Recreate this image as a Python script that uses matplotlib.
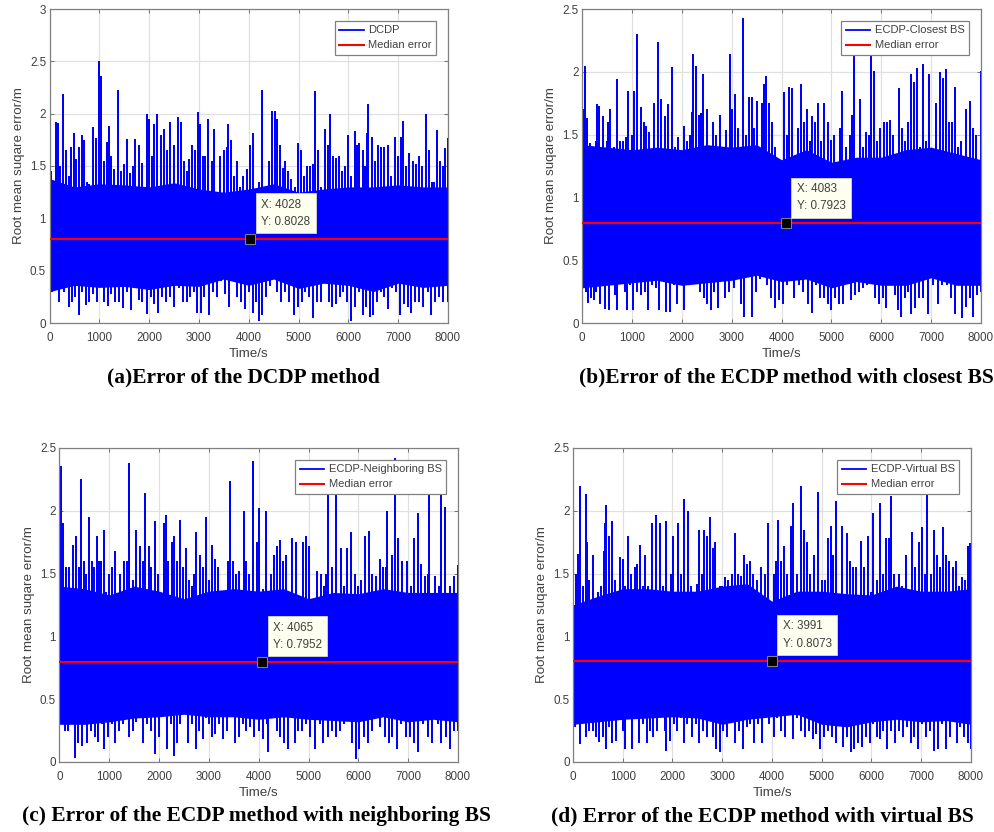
import numpy as np
import matplotlib
matplotlib.use("Agg")
import matplotlib.pyplot as plt

plt.rcParams['font.family'] = ['Liberation Sans', 'DejaVu Sans']

W, H = 995, 832

peaks_a = [(0,1.83),(40,1.45),(130,1.92),(170,1.91),(220,1.5),(281,2.19),(330,1.65),(400,1.4),(440,1.68),(490,1.82),(530,1.57),
(600,1.68),(650,1.8),(700,1.75),(750,1.35),(800,1.33),(880,1.87),(930,1.77),(992,2.5),(1032,2.36),(1100,1.55),(1160,1.73),
(1190,1.88),(1240,1.6),(1300,1.47),(1367,2.23),(1430,1.45),(1500,1.52),(1560,1.76),(1620,1.43),(1680,1.5),(1720,1.76),
(1800,1.7),(1860,1.53),(1930,1.3),(1950,2.0),(2000,1.95),(2060,1.6),(2100,1.9),(2150,2.0),(2230,1.8),(2290,1.85),(2360,1.65),
(2420,1.92),(2500,1.7),(2580,1.97),(2630,1.92),(2700,1.55),(2760,1.45),(2800,1.57),(2860,1.7),(2920,1.65),(2980,2.02),
(3020,1.9),(3080,1.6),(3130,1.6),(3190,1.95),(3260,1.55),(3300,1.85),(3420,1.6),(3500,1.65),(3560,1.68),(3590,1.9),(3650,1.75),
(3700,1.4),(3760,1.55),(3830,1.3),(3890,1.4),(3960,1.47),(4030,1.7),(4094,1.82),(4200,1.35),(4275,2.23),(4340,1.3),(4400,1.55),
(4470,2.03),(4520,2.03),(4560,1.95),(4620,1.7),(4680,1.48),(4720,1.55),(4780,1.45),(4850,1.38),(4920,1.3),(4980,1.72),(5040,1.65),
(5100,1.4),(5160,1.5),(5220,1.5),(5280,1.52),(5333,2.22),(5400,1.65),(5460,1.3),(5530,1.85),(5590,1.7),(5640,2.0),(5700,1.6),
(5760,1.58),(5820,1.6),(5880,1.45),(5940,1.5),(6000,1.8),(6060,1.4),(6130,1.83),(6180,1.7),(6220,1.72),(6290,1.65),(6340,1.5),
(6380,1.82),(6399,2.09),(6480,1.78),(6540,1.55),(6600,1.7),(6660,1.68),(6720,1.68),(6790,1.7),(6850,1.4),(6930,1.78),(6990,1.6),
(7050,1.78),(7100,1.93),(7160,1.5),(7220,1.62),(7290,1.55),(7350,1.52),(7420,1.6),(7480,1.5),(7564,2.0),(7620,1.65),(7680,1.35),
(7720,1.35),(7780,1.84),(7840,1.55),(7890,1.5),(7940,1.67),(7990,1.77)]
troughs_a = [(0,0.0),(60,0.3),(120,0.35),(200,0.2),(290,0.3),(390,0.15),(460,0.2),(520,0.25),(590,0.08),(650,0.3),(730,0.17),(800,0.2),
(870,0.28),(950,0.2),(1040,0.35),(1100,0.2),(1170,0.16),(1240,0.28),(1310,0.2),(1400,0.2),(1480,0.14),(1560,0.3),(1640,0.12),
(1700,0.35),(1790,0.22),(1860,0.2),(1960,0.09),(2030,0.25),(2090,0.18),(2180,0.1),(2260,0.25),(2340,0.2),(2420,0.25),(2500,0.15),
(2590,0.33),(2680,0.2),(2760,0.2),(2830,0.25),(2900,0.3),(2960,0.1),(3040,0.1),(3110,0.25),(3210,0.08),(3280,0.3),(3360,0.25),
(3440,0.4),(3520,0.28),(3600,0.15),(3680,0.4),(3760,0.25),(3840,0.2),(3920,0.13),(4010,0.3),(4090,0.1),(4150,0.2),(4200,0.02),
(4270,0.08),(4340,0.25),(4420,0.35),(4500,0.45),(4570,0.3),(4640,0.2),(4720,0.3),(4800,0.2),(4900,0.08),(4980,0.15),(5060,0.2),
(5130,0.3),(5210,0.25),(5290,0.05),(5370,0.2),(5450,0.2),(5530,0.38),(5610,0.2),(5680,0.15),(5760,0.18),(5830,0.25),(5900,0.3),
(5980,0.2),(6050,0.02),(6130,0.15),(6210,0.3),(6290,0.08),(6360,0.15),(6430,0.06),(6500,0.08),(6580,0.2),(6650,0.3),(6710,0.25),
(6790,0.13),(6870,0.33),(6950,0.3),(7030,0.08),(7110,0.18),(7190,0.15),(7250,0.1),(7330,0.2),(7420,0.2),(7500,0.15),(7590,0.3),
(7660,0.08),(7740,0.2),(7820,0.25),(7900,0.2),(7990,0.2)]

peaks_b = [(0,1.7),(40,1.7),(60,2.05),(110,1.63),(170,1.43),(230,1.25),(280,1.45),(310,1.74),(350,1.73),(410,1.35),(430,1.65),(500,1.45),
(530,1.6),(560,1.7),(640,1.4),(700,1.94),(760,1.45),(820,1.45),(880,1.48),(930,1.85),(1000,1.5),(1050,1.85),(1102,2.3),(1180,1.72),
(1240,1.6),(1290,1.57),(1340,1.52),(1400,1.35),(1440,1.75),(1516,2.24),(1590,1.78),(1660,1.65),(1730,1.74),(1797,2.04),(1860,1.4),
(1920,1.48),(1980,1.35),(2040,1.57),(2100,1.45),(2160,1.5),(2200,1.68),(2218,2.14),(2280,2.05),(2340,1.66),(2390,1.67),(2430,1.98),
(2500,1.7),(2570,1.4),(2620,1.6),(2680,1.5),(2760,1.66),(2810,1.3),(2880,1.54),(2966,2.14),(3000,1.7),(3060,1.82),(3130,1.55),
(3220,2.43),(3290,1.5),(3350,1.8),(3400,1.8),(3450,1.55),(3500,1.77),(3560,1.35),(3610,1.75),(3650,1.9),(3690,1.97),(3740,1.75),
(3800,1.6),(3860,1.4),(3900,1.3),(3960,1.3),(4050,1.84),(4110,1.5),(4160,1.88),(4220,1.87),(4280,1.3),(4330,1.55),(4390,1.9),
(4450,1.6),(4510,1.7),(4570,1.45),(4620,1.65),(4680,1.6),(4740,1.75),(4800,1.45),(4860,1.75),(4930,1.6),(5000,1.46),(5060,1.5),
(5130,1.25),(5170,1.55),(5220,1.85),(5290,1.4),(5370,1.5),(5420,1.66),(5444,2.25),(5500,1.3),(5580,1.78),(5640,1.4),(5700,1.52),
(5760,1.5),(5798,2.25),(5850,2.01),(5910,1.45),(5980,1.55),(6050,1.6),(6120,1.6),(6180,1.62),(6240,1.5),(6300,1.3),(6350,1.87),
(6410,1.55),(6470,1.45),(6530,1.6),(6600,1.98),(6660,1.92),(6720,2.03),(6780,1.4),(6830,2.06),(6900,1.45),(6960,1.98),(7030,1.3),
(7100,1.75),(7170,2.0),(7240,1.95),(7290,2.02),(7350,1.6),(7410,1.6),(7470,1.88),(7530,1.4),(7590,1.45),(7700,1.7),(7770,1.77),
(7840,1.55),(7900,1.5),(7990,2.01)]
troughs_b = [(0,0.0),(50,0.45),(90,0.25),(120,0.16),(180,0.2),(240,0.18),(290,0.25),(360,0.15),(420,0.3),(470,0.11),(540,0.1),(600,0.3),
(660,0.22),(710,0.1),(780,0.35),(860,0.25),(910,0.1),(960,0.3),(1030,0.1),(1110,0.25),(1190,0.22),(1270,0.25),(1330,0.1),(1410,0.3),
(1480,0.28),(1550,0.1),(1630,0.35),(1690,0.09),(1770,0.09),(1840,0.3),(1910,0.15),(2040,0.1),(2110,0.3),(2190,0.33),(2270,0.35),
(2300,0.5),(2370,0.25),(2450,0.2),(2510,0.15),(2590,0.1),(2650,0.25),(2720,0.12),(2800,0.45),(2870,0.2),(2950,0.25),(3040,0.28),
(3110,0.35),(3190,0.15),(3240,0.05),(3320,0.4),(3400,0.05),(3490,0.25),(3560,0.35),(3630,0.52),(3700,0.3),(3780,0.2),(3860,0.12),
(3950,0.18),(4030,0.15),(4110,0.3),(4180,0.35),(4260,0.2),(4350,0.3),(4440,0.25),(4540,0.15),(4620,0.08),(4700,0.3),(4780,0.2),
(4850,0.2),(4930,0.15),(5000,0.1),(5080,0.2),(5150,0.15),(5230,0.15),(5320,0.32),(5400,0.18),(5480,0.22),(5550,0.25),(5630,0.28),
(5710,0.3),(5800,0.42),(5880,0.2),(5960,0.15),(6040,0.2),(6100,0.12),(6190,0.3),(6270,0.22),(6330,0.1),(6400,0.05),(6470,0.2),
(6540,0.25),(6600,0.07),(6680,0.12),(6760,0.2),(6830,0.2),(6930,0.07),(6960,0.47),(7040,0.3),(7130,0.15),(7220,0.3),(7310,0.3),
(7400,0.2),(7480,0.07),(7530,0.3),(7610,0.04),(7690,0.13),(7780,0.2),(7840,0.05),(7920,0.22),(7990,0.25)]

peaks_c = [(0,1.5),(30,2.36),(70,1.9),(130,1.55),(190,1.55),(270,1.73),(330,1.8),(390,1.55),(430,2.25),(490,1.6),(540,1.5),(600,1.95),
(650,1.6),(700,1.55),(750,1.8),(800,1.6),(840,1.6),(890,1.85),(940,1.35),(1000,1.5),(1060,1.55),(1120,1.68),(1220,1.5),(1290,1.6),
(1360,1.6),(1398,2.38),(1480,1.45),(1540,1.85),(1620,1.72),(1680,1.6),(1719,2.14),(1790,1.72),(1840,1.55),(1920,1.92),(1980,1.5),
(2090,1.9),(2130,1.97),(2180,1.6),(2250,1.75),(2300,1.8),(2360,1.6),(2420,1.93),(2480,1.55),(2530,1.7),(2590,1.45),(2650,1.4),
(2700,1.5),(2750,1.83),(2830,1.65),(2880,1.55),(2940,1.95),(3000,1.45),(3060,1.73),(3120,1.62),(3180,1.55),(3240,1.3),(3310,1.3),
(3380,1.6),(3418,2.24),(3490,1.6),(3550,1.5),(3610,1.52),(3700,2.0),(3740,1.6),(3810,1.5),(3887,2.4),(3960,1.75),(4014,2.02),
(4090,1.38),(4130,1.35),(4155,2.0),(4240,1.5),(4310,1.65),(4370,1.72),(4420,1.77),(4490,1.6),(4550,1.65),(4610,1.35),(4670,1.78),
(4740,1.75),(4890,1.75),(4940,1.8),(5010,1.72),(5170,1.52),(5240,1.5),(5300,1.4),(5360,1.5),(5399,2.15),(5480,1.55),(5553,2.15),
(5650,1.7),(5710,1.4),(5780,1.7),(5860,1.83),(5930,1.5),(6000,1.4),(6060,1.45),(6130,1.8),(6210,1.84),(6280,1.5),(6360,1.48),
(6430,1.62),(6500,1.55),(6550,1.55),(6583,2.0),(6680,1.65),(6737,2.42),(6790,1.78),(6880,1.6),(6970,1.6),(7050,1.4),(7120,1.78),
(7192,1.98),(7260,1.58),(7330,1.48),(7400,1.5),(7426,2.15),(7540,1.48),(7620,1.4),(7667,2.15),(7734,2.03),(7840,1.4),(7910,1.48),
(7990,1.57)]
troughs_c = [(0,0.0),(50,0.35),(110,0.25),(180,0.25),(250,0.3),(310,0.03),(380,0.15),(450,0.13),(510,0.35),(560,0.15),(640,0.25),(710,0.2),
(770,0.16),(860,0.3),(900,0.1),(980,0.2),(1060,0.3),(1120,0.15),(1190,0.25),(1270,0.3),(1340,0.35),(1400,0.2),(1470,0.25),(1540,0.32),
(1620,0.4),(1680,0.15),(1750,0.3),(1830,0.25),(1910,0.06),(1990,0.2),(2100,0.45),(2160,0.1),(2230,0.3),(2290,0.05),(2360,0.15),
(2420,0.3),(2500,0.4),(2570,0.15),(2650,0.3),(2740,0.1),(2810,0.25),(2880,0.18),(2950,0.35),(3000,0.3),(3060,0.2),(3130,0.22),
(3210,0.3),(3290,0.18),(3360,0.25),(3430,0.42),(3520,0.15),(3600,0.2),(3680,0.3),(3750,0.25),(3820,0.28),(3910,0.2),(4000,0.25),
(4090,0.18),(4160,0.3),(4190,0.08),(4290,0.35),(4360,0.25),(4430,0.2),(4510,0.15),(4580,0.1),(4650,0.5),(4720,0.15),(4790,0.25),
(4860,0.25),(4950,0.3),(5030,0.2),(5120,0.1),(5220,0.3),(5290,0.15),(5390,0.2),(5470,0.25),(5550,0.2),(5640,0.25),(5720,0.3),
(5800,0.35),(5880,0.15),(5960,0.02),(6010,0.1),(6110,0.2),(6190,0.15),(6270,0.25),(6340,0.4),(6430,0.28),(6530,0.2),(6610,0.15),
(6680,0.2),(6770,0.1),(6860,0.3),(6950,0.2),(7040,0.2),(7120,0.15),(7200,0.08),(7290,0.3),(7390,0.2),(7480,0.15),(7590,0.3),
(7660,0.15),(7750,0.2),(7830,0.1),(7910,0.25),(7990,0.25)]

peaks_d = [(0,1.05),(20,1.25),(60,1.5),(110,1.66),(147,2.2),(200,1.4),(254,2.13),(290,1.75),(330,1.45),(410,1.65),(500,1.35),(560,1.4),
(620,1.68),(640,1.9),(662,2.05),(720,1.8),(790,1.92),(840,1.45),(900,1.32),(940,1.63),(1000,1.62),(1040,1.4),(1100,1.8),(1170,1.5),
(1240,1.55),(1290,1.58),(1350,1.73),(1400,1.4),(1440,1.65),(1500,1.4),(1540,1.3),(1590,1.9),(1660,1.97),(1740,1.9),(1800,1.4),
(1870,1.92),(1930,1.3),(1970,1.5),(2010,1.8),(2080,1.35),(2120,1.9),(2170,1.5),(2234,2.09),(2308,2.0),(2370,1.4),(2440,1.35),
(2500,1.42),(2530,1.85),(2590,1.5),(2640,1.85),(2700,1.8),(2760,1.95),(2810,1.7),(2860,1.75),(2950,1.4),(3000,1.4),(3050,1.47),
(3120,1.45),(3190,1.5),(3250,1.82),(3310,1.5),(3380,1.48),(3440,1.65),(3500,1.58),(3560,1.6),(3620,1.5),(3690,1.45),(3770,1.55),
(3860,1.5),(3910,1.9),(4040,1.5),(4080,1.6),(4130,1.93),(4190,1.6),(4240,1.72),(4310,1.5),(4380,1.88),(4430,2.06),(4500,1.5),
(4580,2.2),(4640,1.85),(4700,1.75),(4760,1.5),(4840,1.65),(4920,2.15),(5000,1.45),(5060,1.45),(5120,1.78),(5180,1.88),(5230,1.65),
(5278,2.08),(5400,1.88),(5500,1.82),(5560,1.6),(5630,1.55),(5690,1.55),(5780,1.76),(5850,1.55),(5920,1.8),(5990,1.35),(6035,1.98),
(6110,1.45),(6168,2.06),(6230,1.5),(6300,1.78),(6350,1.78),(6382,2.12),(6450,1.5),(6550,1.5),(6610,1.4),(6690,1.65),(6750,1.35),
(6820,1.83),(6880,1.55),(6950,1.75),(7018,1.87),(7070,1.5),(7125,2.15),(7190,1.5),(7259,1.85),(7310,1.65),(7380,1.55),(7440,1.87),
(7490,1.65),(7560,1.6),(7630,1.55),(7690,1.6),(7760,1.4),(7820,1.47),(7880,1.45),(7940,1.72),(7970,1.74),(7995,1.65)]
troughs_d = [(0,0.0),(40,0.28),(90,0.3),(140,0.14),(200,0.38),(260,0.2),(330,0.25),(400,0.25),(470,0.2),(530,0.16),(610,0.2),(660,0.1),
(730,0.28),(790,0.15),(860,0.17),(940,0.4),(1000,0.25),(1050,0.1),(1130,0.35),(1190,0.1),(1260,0.4),(1330,0.15),(1400,0.3),(1480,0.15),
(1550,0.25),(1610,0.2),(1690,0.25),(1770,0.5),(1840,0.25),(1870,0.09),(1950,0.17),(2040,0.3),(2100,0.25),(2180,0.35),(2240,0.15),
(2300,0.3),(2390,0.2),(2470,0.3),(2530,0.15),(2620,0.25),(2690,0.2),(2730,0.4),(2810,0.2),(2880,0.1),(2960,0.08),(3020,0.25),
(3100,0.2),(3190,0.35),(3260,0.15),(3340,0.25),(3410,0.1),(3490,0.28),(3560,0.3),(3640,0.15),(3720,0.3),(3800,0.15),(3860,0.35),
(3940,0.3),(4040,0.2),(4100,0.35),(4190,0.25),(4270,0.2),(4350,0.45),(4430,0.18),(4510,0.35),(4590,0.25),(4660,0.2),(4750,0.25),
(4820,0.18),(4880,0.22),(4960,0.1),(5050,0.2),(5130,0.25),(5200,0.2),(5280,0.15),(5350,0.3),(5420,0.12),(5500,0.2),(5590,0.08),
(5650,0.1),(5720,0.15),(5810,0.12),(5880,0.2),(5960,0.15),(6040,0.3),(6110,0.2),(6170,0.18),(6240,0.25),(6320,0.1),(6400,0.25),
(6480,0.15),(6560,0.25),(6640,0.2),(6720,0.28),(6790,0.15),(6860,0.2),(6940,0.1),(7020,0.3),(7090,0.2),(7170,0.25),(7260,0.09),
(7340,0.1),(7420,0.3),(7490,0.1),(7570,0.2),(7640,0.33),(7710,0.15),(7780,0.28),(7860,0.2),(7940,0.15),(7990,0.1)]

# where the trace turns solid, read every 500 s
band_t = [0, 500, 1000, 1500, 2000, 2500, 3000, 3500, 4000, 4500, 5000, 5500, 6000, 6500, 7000, 7500, 8000]
band_hi_a = [1.38, 1.3, 1.33, 1.32, 1.3, 1.34, 1.28, 1.25, 1.28, 1.33, 1.25, 1.28, 1.3, 1.3, 1.32, 1.3, 1.3]
band_lo_a = [0.3, 0.36, 0.34, 0.35, 0.32, 0.36, 0.35, 0.42, 0.36, 0.42, 0.33, 0.38, 0.36, 0.3, 0.38, 0.34, 0.36]
band_hi_b = [1.42, 1.4, 1.38, 1.4, 1.38, 1.42, 1.4, 1.42, 1.3, 1.38, 1.28, 1.32, 1.32, 1.38, 1.4, 1.35, 1.3]
band_lo_b = [0.28, 0.3, 0.32, 0.34, 0.3, 0.32, 0.34, 0.38, 0.33, 0.35, 0.28, 0.33, 0.3, 0.3, 0.36, 0.3, 0.3]
band_hi_c = [1.4, 1.38, 1.33, 1.4, 1.36, 1.3, 1.36, 1.38, 1.36, 1.38, 1.3, 1.35, 1.34, 1.38, 1.35, 1.35, 1.35]
band_lo_c = [0.3, 0.3, 0.32, 0.35, 0.36, 0.38, 0.36, 0.36, 0.34, 0.36, 0.34, 0.33, 0.32, 0.36, 0.32, 0.34, 0.32]
band_hi_d = [1.25, 1.32, 1.38, 1.38, 1.36, 1.36, 1.4, 1.42, 1.28, 1.36, 1.36, 1.34, 1.33, 1.4, 1.36, 1.36, 1.38]
band_lo_d = [0.3, 0.32, 0.34, 0.35, 0.36, 0.35, 0.3, 0.34, 0.36, 0.38, 0.3, 0.28, 0.32, 0.34, 0.32, 0.33, 0.3]

x_ticks = [0, 1000, 2000, 3000, 4000, 5000, 6000, 7000, 8000]
y_ticks_a = [0, 0.5, 1, 1.5, 2, 2.5, 3]
y_ticks = [0, 0.5, 1, 1.5, 2, 2.5]


def spikes(points, level):
    # each spike leaves the solid band and comes back to it
    t, v = np.array(points).T
    xs = np.repeat(t, 3)
    ys = np.column_stack([np.full(len(v), level), v, np.full(len(v), level)]).ravel()
    return xs, ys


def panel(box, peaks, troughs, band_hi, band_lo, yticks, name, tip, caption, cap_xy):
    # box is left, top, right, bottom in image pixels
    l, t, r, b = box
    ax = plt.gcf().add_axes([l/W, 1 - b/H, (r - l)/W, (b - t)/H])

    ax.fill_between(band_t, band_lo, band_hi, color="#0000ff", lw=0, zorder=2)
    xs, ys = spikes(peaks, 1.0)
    ax.plot(xs, ys, color="#0000ff", lw=1.3, label=name, zorder=2, solid_joinstyle="bevel")
    xs, ys = spikes(troughs, 0.6)
    ax.plot(xs, ys, color="#0000ff", lw=1.3, zorder=2, solid_joinstyle="bevel")
    ax.axhline(tip[1], color="#ff0000", lw=1.5, label="Median error", zorder=3)
    ax.plot([tip[0]], [tip[1]], marker="s", ms=6.5, mfc="black", mec="#808080", mew=0.8, zorder=5)
    ax.annotate("X: {}\nY: {}".format(tip[0], tip[1]), xy=tip, xytext=(11, 11), textcoords="offset pixels",
                ha="left", va="bottom", fontsize=8.4, color="#404040", linespacing=1.6, zorder=6,
                bbox=dict(boxstyle="square,pad=0.45", fc="#fffff0", ec="#d8d8c8", lw=0.6))

    ax.set_xlim(0, 8000)
    ax.set_ylim(yticks[0], yticks[-1])
    ax.set_xticks(x_ticks)
    ax.set_yticks(yticks)
    ax.set_yticklabels([str(v) for v in yticks])
    ax.grid(True, color="#e0e0e0", lw=0.9)
    ax.set_axisbelow(True)
    ax.tick_params(direction="in", length=3, width=0.6, color="#606060", labelcolor="#404040",
                   labelsize=8.4, pad=2.5, top=True, right=True)
    ax.tick_params(axis="x", pad=6.5)
    for s in ax.spines.values():
        s.set_color("#808080")
        s.set_linewidth(0.9)
    ax.set_xlabel("Time/s", fontsize=9.6, color="#404040", va="center")
    ax.set_ylabel("Root mean suqare error/m", fontsize=9.6, color="#404040", va="center")
    ax.xaxis.set_label_coords(0.5, -31/314)
    ax.yaxis.set_label_coords(-31/399, 0.5)

    leg = ax.legend(loc="upper right", bbox_to_anchor=(1 - 12/399, 1 - 12/314), borderaxespad=0,
                    fontsize=8, fancybox=False, framealpha=1, edgecolor="#808080",
                    handlelength=2.2, labelspacing=0.45, borderpad=0.4, handletextpad=0.4)
    leg.set_zorder(7)
    leg.get_frame().set_linewidth(0.9)
    for txt in leg.get_texts():
        txt.set_color("#404040")
    plt.gcf().text(cap_xy[0]/W, 1 - cap_xy[1]/H, caption, family="Liberation Serif", weight="bold",
                   fontsize=15.4, ha="center", va="center", color="black")


fig = plt.figure(figsize=(W/100, H/100), dpi=100)
panel((49.5, 9, 448, 323), peaks_a, troughs_a, band_hi_a, band_lo_a, y_ticks_a, "DCDP", (4028, 0.8028),
      "(a)Error of the DCDP method", (243, 377))
panel((582, 9, 981, 323), peaks_b, troughs_b, band_hi_b, band_lo_b, y_ticks, "ECDP-Closest BS", (4083, 0.7923),
      "(b)Error of the ECDP method with closest BS", (786, 377))
panel((59.5, 448, 458, 762), peaks_c, troughs_c, band_hi_c, band_lo_c, y_ticks, "ECDP-Neighboring BS", (4065, 0.7952),
      "(c) Error of the ECDP method with neighboring BS", (256, 816))
panel((573, 448, 971, 762), peaks_d, troughs_d, band_hi_d, band_lo_d, y_ticks, "ECDP-Virtual BS", (3991, 0.8073),
      "(d) Error of the ECDP method with virtual BS", (762, 816))
fig.savefig("out.png", dpi=100)
